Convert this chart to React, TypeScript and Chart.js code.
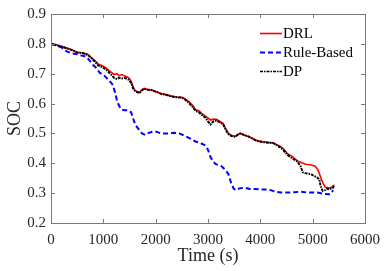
import React, { useEffect, useRef } from "react";
import { Chart, registerables } from "chart.js";

Chart.register(...registerables);

const xTicks = [0, 1000, 2000, 3000, 4000, 5000, 6000];
const yTicks = [0.2, 0.3, 0.4, 0.5, 0.6, 0.7, 0.8, 0.9];
const seriesNames = ["DRL", "Rule-Based", "DP"];

const drlTime = [0, 100, 200, 300, 400, 500, 600, 700, 750, 850, 900, 1000, 1060, 1100, 1150, 1210, 1260, 1300, 1350, 1400, 1450, 1500, 1540, 1570, 1600, 1650, 1690, 1730, 1780, 1850, 1930, 2000, 2100, 2200, 2300, 2400, 2500, 2550, 2630, 2700, 2760, 2830, 2880, 2950, 3050, 3100, 3160, 3230, 3290, 3340, 3390, 3450, 3520, 3580, 3620, 3700, 3770, 3850, 3920, 3960, 4050, 4150, 4240, 4300, 4390, 4450, 4520, 4600, 4710, 4780, 4865, 4950, 5050, 5100, 5130, 5170, 5200, 5240, 5300, 5340, 5380, 5410];
const drlSoc = [0.800, 0.797, 0.792, 0.786, 0.780, 0.772, 0.770, 0.765, 0.757, 0.742, 0.733, 0.725, 0.718, 0.712, 0.705, 0.697, 0.700, 0.693, 0.697, 0.693, 0.690, 0.684, 0.672, 0.655, 0.645, 0.640, 0.637, 0.645, 0.651, 0.647, 0.645, 0.640, 0.634, 0.630, 0.625, 0.622, 0.621, 0.617, 0.607, 0.595, 0.580, 0.575, 0.567, 0.558, 0.545, 0.548, 0.547, 0.540, 0.533, 0.515, 0.500, 0.493, 0.490, 0.497, 0.500, 0.494, 0.490, 0.483, 0.477, 0.475, 0.472, 0.470, 0.469, 0.464, 0.456, 0.447, 0.432, 0.424, 0.408, 0.403, 0.397, 0.395, 0.390, 0.378, 0.364, 0.345, 0.333, 0.320, 0.318, 0.318, 0.322, 0.327];

const dpTime = [0, 100, 200, 300, 400, 500, 600, 700, 750, 850, 900, 1000, 1060, 1100, 1150, 1210, 1260, 1300, 1350, 1400, 1450, 1500, 1540, 1570, 1600, 1650, 1690, 1730, 1780, 1850, 1930, 2000, 2100, 2200, 2300, 2400, 2500, 2550, 2630, 2700, 2760, 2830, 2880, 2950, 3000, 3050, 3100, 3160, 3230, 3290, 3340, 3390, 3450, 3520, 3580, 3620, 3700, 3770, 3850, 3920, 3960, 4050, 4150, 4240, 4300, 4390, 4450, 4520, 4600, 4710, 4770, 4810, 4860, 4960, 5000, 5090, 5130, 5150, 5190, 5240, 5280, 5320, 5360, 5390, 5410];
const dpSoc = [0.800, 0.796, 0.791, 0.785, 0.779, 0.771, 0.769, 0.763, 0.756, 0.738, 0.728, 0.720, 0.713, 0.706, 0.697, 0.685, 0.682, 0.686, 0.684, 0.686, 0.683, 0.678, 0.665, 0.650, 0.643, 0.638, 0.635, 0.643, 0.650, 0.646, 0.645, 0.640, 0.633, 0.629, 0.624, 0.621, 0.620, 0.615, 0.603, 0.590, 0.576, 0.570, 0.562, 0.553, 0.540, 0.530, 0.540, 0.543, 0.537, 0.530, 0.512, 0.498, 0.491, 0.489, 0.497, 0.500, 0.494, 0.490, 0.483, 0.476, 0.474, 0.471, 0.469, 0.468, 0.462, 0.452, 0.442, 0.428, 0.418, 0.405, 0.390, 0.370, 0.367, 0.364, 0.360, 0.352, 0.345, 0.325, 0.308, 0.310, 0.315, 0.312, 0.316, 0.318, 0.328];

const rbTime = [0, 100, 200, 300, 400, 500, 550, 650, 700, 800, 860, 930, 1000, 1060, 1120, 1175, 1220, 1270, 1310, 1345, 1400, 1460, 1530, 1560, 1590, 1640, 1685, 1740, 1800, 1870, 1950, 2010, 2100, 2250, 2350, 2450, 2550, 2690, 2760, 2850, 2950, 3000, 3050, 3100, 3150, 3260, 3330, 3390, 3440, 3490, 3530, 3600, 3710, 3800, 3900, 4010, 4100, 4200, 4280, 4400, 4520, 4650, 4770, 4900, 5000, 5090, 5200, 5320, 5360, 5390];
const rbSoc = [0.800, 0.795, 0.788, 0.775, 0.768, 0.765, 0.762, 0.758, 0.752, 0.730, 0.720, 0.703, 0.697, 0.686, 0.675, 0.664, 0.640, 0.604, 0.590, 0.580, 0.578, 0.578, 0.571, 0.555, 0.539, 0.522, 0.512, 0.500, 0.495, 0.502, 0.506, 0.506, 0.500, 0.500, 0.502, 0.500, 0.493, 0.480, 0.473, 0.468, 0.460, 0.445, 0.420, 0.405, 0.397, 0.390, 0.378, 0.364, 0.335, 0.315, 0.310, 0.316, 0.318, 0.314, 0.314, 0.312, 0.312, 0.310, 0.305, 0.302, 0.302, 0.303, 0.305, 0.302, 0.302, 0.302, 0.298, 0.296, 0.300, 0.310];

const FONT = "'Liberation Serif', 'Times New Roman', serif";
const colors = ["#ff0000", "#0000ff", "#000000"];
const dashes = [[], [5, 3], [3, 1, 1.5, 1]];
const widths = [1.6, 2, 2];
const orders = [2, 1, 0];

const pts = (t: number[], v: number[]) => t.map((x, i) => ({ x, y: v[i] }));

const framePlugin = {
  id: "frame",
  afterDatasetsDraw(chart: any) {
    const { ctx, chartArea: a, scales } = chart;
    ctx.save();
    ctx.strokeStyle = "#7a7a7a";
    ctx.lineWidth = 1;
    ctx.setLineDash([]);
    ctx.strokeRect(Math.round(a.left) + 0.5, Math.round(a.top) + 0.5, Math.round(a.right - a.left), Math.round(a.bottom - a.top));
    const tl = 4;
    ctx.beginPath();
    xTicks.forEach((t) => {
      const x = Math.round(scales.x.getPixelForValue(t)) + 0.5;
      ctx.moveTo(x, a.bottom);
      ctx.lineTo(x, a.bottom - tl);
      ctx.moveTo(x, a.top);
      ctx.lineTo(x, a.top + tl);
    });
    yTicks.forEach((t) => {
      const y = Math.round(scales.y.getPixelForValue(t)) + 0.5;
      ctx.moveTo(a.left, y);
      ctx.lineTo(a.left + tl, y);
      ctx.moveTo(a.right, y);
      ctx.lineTo(a.right - tl, y);
    });
    ctx.stroke();

    // legend
    const lx0 = 260, lx1 = 282, ly = [33, 52, 71];
    ctx.font = `15px ${FONT}`;
    ctx.textBaseline = "middle";
    ctx.textAlign = "left";
    seriesNames.forEach((name, i) => {
      ctx.strokeStyle = colors[i];
      ctx.lineWidth = i === 2 ? 1.6 : widths[i];
      ctx.setLineDash(dashes[i]);
      ctx.beginPath();
      ctx.moveTo(lx0, ly[i] + 0.5);
      ctx.lineTo(lx1, ly[i] + 0.5);
      ctx.stroke();
      ctx.setLineDash([]);
      ctx.fillStyle = "#000";
      ctx.fillText(name, lx1 + 1, ly[i] + 1);
    });
    ctx.restore();
  },
};

export default function App() {
  const ref = useRef<HTMLCanvasElement>(null);
  useEffect(() => {
    document.body.style.margin = "0";
    const series = [pts(drlTime, drlSoc), pts(rbTime, rbSoc), pts(dpTime, dpSoc)];
    const chart = new Chart(ref.current!, {
      type: "line",
      data: {
        datasets: seriesNames.map((name, i) => ({
          label: name,
          data: series[i],
          borderColor: colors[i],
          borderWidth: widths[i],
          borderDash: dashes[i],
          order: orders[i],
          pointRadius: 0,
          fill: false,
          tension: 0,
        })),
      },
      options: {
        animation: false,
        responsive: false,
        maintainAspectRatio: false,
        layout: { padding: { top: 10, right: 20, left: 0, bottom: 0 } },
        plugins: { legend: { display: false }, tooltip: { enabled: false } },
        scales: {
          x: {
            type: "linear",
            min: 0,
            max: 6000,
            grid: { display: false, drawTicks: false },
            border: { display: false },
            ticks: {
              stepSize: 1000,
              padding: 8,
              color: "#262626",
              font: { family: FONT, size: 15 },
              maxRotation: 0,
              callback: (v: any) => String(v),
            },
            title: { display: true, text: "Time (s)", color: "#262626", font: { family: FONT, size: 18 }, padding: { top: 0 } },
            afterFit: (s: any) => { s.height = 48; },
          },
          y: {
            min: 0.2,
            max: 0.9,
            grid: { display: false, drawTicks: false },
            border: { display: false },
            ticks: {
              stepSize: 0.1,
              padding: 5,
              color: "#262626",
              font: { family: FONT, size: 15 },
              callback: (v: any) => Number(v).toFixed(1),
            },
            title: { display: true, text: "SOC", color: "#262626", font: { family: FONT, size: 18 }, padding: { bottom: 0 } },
            afterFit: (s: any) => { s.width = 51; },
          },
        },
      },
      plugins: [framePlugin],
    });
    return () => chart.destroy();
  }, []);
  return (
    <div style={{ width: 388, height: 271 }}>
      <canvas ref={ref} width={388} height={271} style={{ display: "block" }} />
    </div>
  );
}
